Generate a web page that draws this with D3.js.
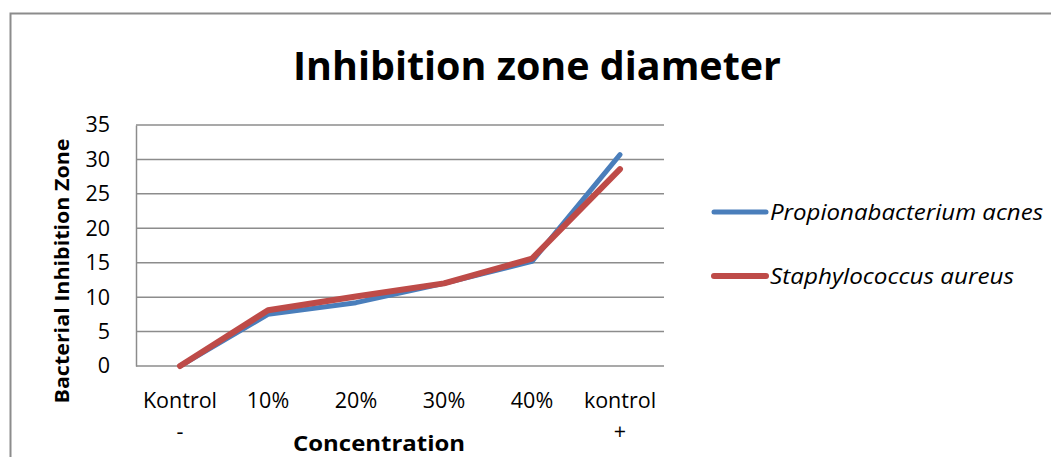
<!DOCTYPE html>
<html>
<head>
<meta charset="utf-8">
<script src="https://cdn.jsdelivr.net/npm/d3@7"></script>
<style>
  body { margin: 0; background: #fff; }
  text { font-family: "Open Sans", "Noto Sans", sans-serif; }
</style>
</head>
<body>
<div id="svg-holder"></div>
<script>
// chart data
const categories = ["Kontrol -", "10%", "20%", "30%", "40%", "kontrol +"];
const acnes = [0, 7.5, 9.2, 12, 15.2, 30.7];
const aureus = [0, 8.1, 10.1, 12, 15.6, 28.6];
const seriesNames = ["Propionabacterium acnes", "Staphylococcus aureus"];
const seriesColors = ["#4a7ebb", "#be4b48"];
const yTicks = [0, 5, 10, 15, 20, 25, 30, 35];

let svg = d3.select("#svg-holder").append("svg")
  .attr("width", 1051)
  .attr("height", 457);

// outer chart border
svg.append("rect")
  .attr("x", 10.5).attr("y", 13.5)
  .attr("width", 1100).attr("height", 500)
  .attr("fill", "none")
  .attr("stroke", "#8c8c8c")
  .attr("stroke-width", 2);

const plotL = 136, plotR = 664, plotT = 125, plotB = 366;

const x = d3.scaleBand().domain(categories).range([plotL, plotR]);
const y = d3.scaleLinear().domain([0, 35]).range([plotB, plotT]);

// gridlines
svg.append("g")
  .selectAll("line")
  .data(yTicks)
  .join("line")
  .attr("x1", plotL).attr("x2", plotR)
  .attr("y1", d => y(d)).attr("y2", d => y(d))
  .attr("stroke", "#8c8c8c")
  .attr("stroke-width", 1.5);

// y axis
let yAxis = svg.append("g")
  .attr("transform", `translate(${plotL},0)`)
  .call(d3.axisLeft(y).tickValues(yTicks).tickSize(0).tickPadding(26));
yAxis.select(".domain").attr("stroke", "#8c8c8c").attr("stroke-width", 1.5);
yAxis.selectAll("text")
  .attr("font-size", 21.5)
  .attr("fill", "#000")
  .style("font-family", "'Open Sans', sans-serif");

// x axis labels (two lines)
let xl = svg.append("g")
  .selectAll("text")
  .data(categories)
  .join("text")
  .attr("text-anchor", "middle")
  .attr("font-size", 21.5)
  .attr("fill", "#000");
xl.each(function(d) {
  const parts = d.split(" ");
  const t = d3.select(this);
  parts.forEach((p, i) => {
    t.append("tspan")
      .attr("x", x(d) + x.bandwidth() / 2)
      .attr("y", 408 + i * 31)
      .text(p);
  });
});

// lines
const line = d3.line()
  .x((d, i) => x(categories[i]) + x.bandwidth() / 2)
  .y(d => y(d));

[acnes, aureus].forEach((s, i) => {
  svg.append("path")
    .datum(s)
    .attr("d", line)
    .attr("fill", "none")
    .attr("stroke", seriesColors[i])
    .attr("stroke-width", i === 0 ? 5 : 6)
    .attr("stroke-linecap", "round")
    .attr("stroke-linejoin", "round");
});

// title
svg.append("text")
  .attr("x", 537).attr("y", 80)
  .attr("text-anchor", "middle")
  .attr("font-size", 40)
  .attr("font-weight", "bold")
  .attr("textLength", 488)
  .attr("lengthAdjust", "spacingAndGlyphs")
  .text("Inhibition zone diameter");

// axis titles
svg.append("text")
  .attr("transform", "translate(69,271) rotate(-90)")
  .attr("text-anchor", "middle")
  .attr("font-size", 19)
  .attr("font-weight", "bold")
  .attr("textLength", 265)
  .attr("lengthAdjust", "spacingAndGlyphs")
  .text("Bacterial Inhibition Zone");

svg.append("text")
  .attr("x", 379).attr("y", 451)
  .attr("text-anchor", "middle")
  .attr("font-size", 22)
  .attr("font-weight", "bold")
  .attr("textLength", 172)
  .attr("lengthAdjust", "spacingAndGlyphs")
  .text("Concentration");

// legend
const legendY = [212, 276];
const legendW = [273, 244];
seriesNames.forEach((n, i) => {
  svg.append("line")
    .attr("x1", 714).attr("x2", 766)
    .attr("y1", legendY[i]).attr("y2", legendY[i])
    .attr("stroke", seriesColors[i])
    .attr("stroke-width", i === 0 ? 5 : 6)
    .attr("stroke-linecap", "round");
  svg.append("text")
    .attr("x", 770).attr("y", legendY[i] + 8)
    .attr("font-size", 22)
    .attr("font-style", "italic")
    .attr("textLength", legendW[i])
    .attr("lengthAdjust", "spacingAndGlyphs")
    .text(n);
});
</script>
</body>
</html>
